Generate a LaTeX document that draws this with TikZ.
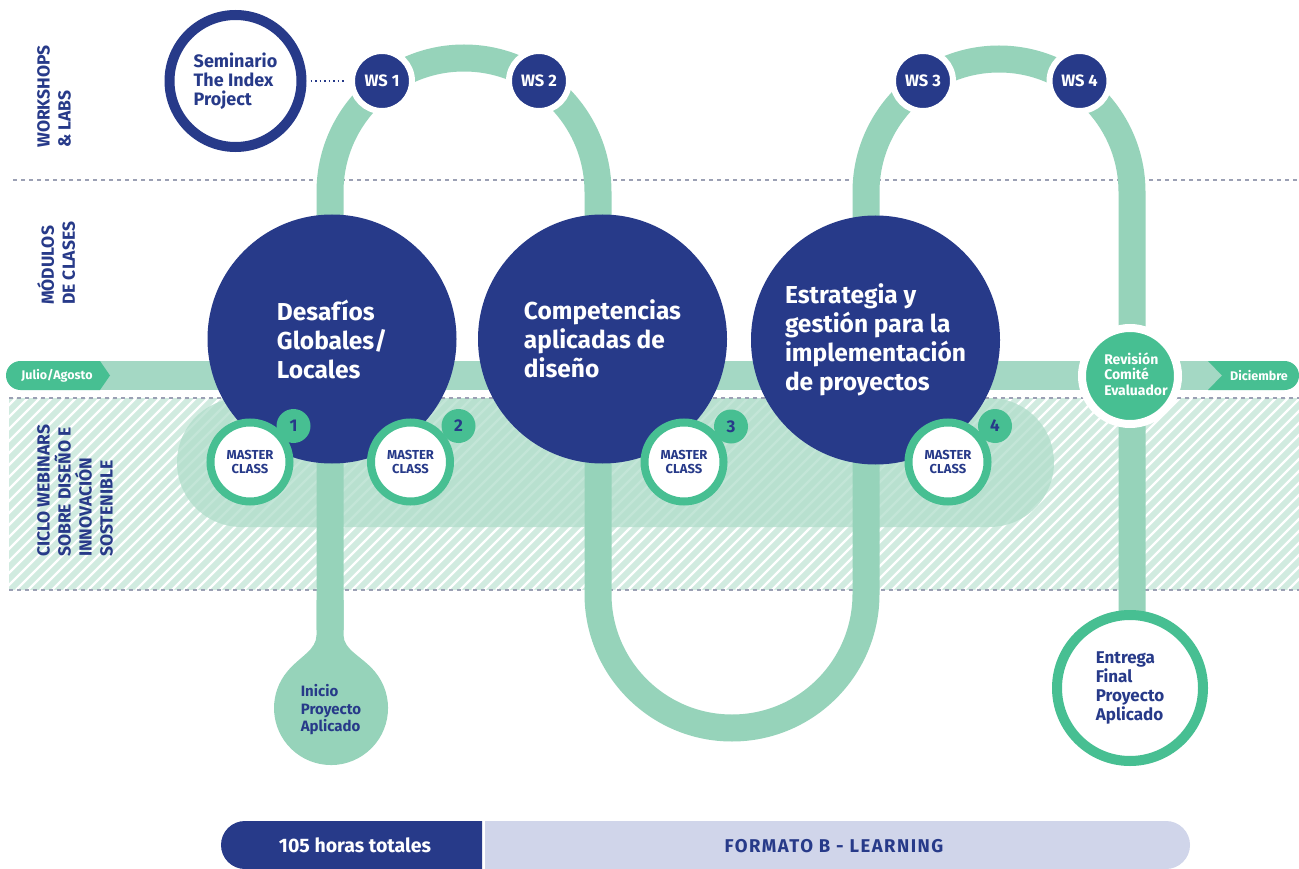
\documentclass[tikz,border=0pt]{standalone}
\usepackage{fontspec}
\setmainfont{Fira Sans}
\definecolor{navy}{RGB}{39,58,137}
\definecolor{dgreen}{RGB}{71,191,146}
\definecolor{trackc}{RGB}{150,211,186}
\definecolor{barc}{RGB}{164,216,196}
\definecolor{hatchbg}{RGB}{209,235,224}
\definecolor{pillc}{RGB}{176,221,202}
\definecolor{lav}{RGB}{208,213,234}
\definecolor{dashc}{RGB}{155,160,180}
\begin{document}
\begin{tikzpicture}[x=1pt,y=1pt,
  bigc/.style={circle, fill=navy, minimum size=249, inner sep=0, text=white, align=left, font={\bfseries\fontsize{24.5}{29}\selectfont}},
  mc/.style={circle, fill=white, draw=dgreen, line width=8, minimum size=79, inner sep=0, text=navy, align=center, font={\bfseries\fontsize{13}{14}\selectfont}},
  badge/.style={circle, fill=dgreen, minimum size=34, inner sep=0, text=navy, font={\bfseries\fontsize{17}{17}\selectfont}},
  ws/.style={circle, fill=navy, draw=white, line width=6, minimum size=60, inner sep=0, text=white, font={\bfseries\fontsize{16.5}{16}\selectfont}},
  ring/.style={circle, fill=white, line width=10, inner sep=0, text=navy, align=left},
  sidelabel/.style={rotate=90, anchor=north west, align=left, inner sep=0, text=navy, font={\bfseries\fontsize{17.5}{21}\selectfont}},
  dashline/.style={draw=dashc, line width=1.2, dash pattern=on 4pt off 4pt},
  track/.style={draw=trackc, line width=27},
  bartext/.style={text=white, font={\bfseries\fontsize{12.5}{12}\selectfont}}
]
\useasboundingbox (0,0) rectangle (1299,-869);
\clip (0,0) rectangle (1299,-869);
\fill[white] (0,0) rectangle (1299,-869);

% hatched band
\fill[hatchbg] (9,-398) rectangle (1299,-590);
\begin{scope}
  \clip (9,-398) rectangle (1299,-590);
  \foreach \i in {-200,-188,...,1300} \draw[white, line width=2.2] (\i,-590) -- ++(192,192);
\end{scope}
\fill[pillc, opacity=0.75] (241.5,-398) -- (989.5,-398) arc[start angle=90,end angle=-90,radius=64.5] -- (241.5,-527) arc[start angle=270,end angle=90,radius=64.5] -- cycle;

% dashed separators
\draw[dashline] (13,-180) -- (1299,-180);
\draw[dashline] (9,-398) -- (1299,-398);
\draw[dashline] (9,-590) -- (1299,-590);

% timeline bar
\fill[barc] (100,-361) rectangle (1222,-390);

% track
\draw[track] (330,-630) -- (330,-192) arc[start angle=180,end angle=0,radius=134]
  -- (598,-594) arc[start angle=180,end angle=360,radius=134]
  -- (866,-192) arc[start angle=180,end angle=0,radius=133] -- (1132,-650);

% drop
\fill[trackc] (343.5,-600) -- (343.5,-635) .. controls (343.5,-650) and (361.8,-656.1) .. (374.7,-671.4)
  arc[start angle=40,end angle=-220,radius=57]
  .. controls (300.2,-656.1) and (316.5,-650) .. (316.5,-635) -- (316.5,-600) -- cycle;
\node[inner sep=0, text=navy, align=left, font={\bfseries\fontsize{15}{17.5}\selectfont}] (inicio) at (331,-710) {Inicio\\Proyecto\\Aplicado};

% chevrons
\fill[dgreen] (100,-361) -- (20.5,-361) arc[start angle=90,end angle=270,radius=14.5] -- (100,-390) -- (110,-375.5) -- cycle;
\node[bartext] (julio) at (57,-375.5) {Julio/Agosto};
\fill[dgreen] (1208,-361) -- (1284.5,-361) arc[start angle=90,end angle=-90,radius=14.5] -- (1208,-390) -- (1222,-375.5) -- cycle;
\node[bartext] (dic) at (1259,-375.5) {Diciembre};

% side labels
\node[sidelabel] (lab1) at (37,-148) {WORKSHOPS\\\& LABS};
\node[sidelabel] (lab2) at (37,-305) {MÓDULOS\\DE CLASES};
\node[sidelabel] (lab3) at (37,-557) {CICLO WEBINARS\\SOBRE DISEÑO E\\INNOVACIÓN\\SOSTENIBLE};

% big modules
\node[bigc] (des) at (332,-339) {Desafíos\\Globales/\\Locales};
\node[bigc] (comp) at (602.5,-339) {Competencias\\aplicadas de\\diseño};
\node[bigc, xshift=5] (est) at (870.5,-340) {Estrategia y\\gestión para la\\implementación\\de proyectos};

% master classes
\node[mc] (mc1) at (250,-462) {MASTER\\CLASS};
\node[mc] (mc2) at (410.5,-462) {MASTER\\CLASS};
\node[mc] (mc3) at (684,-462) {MASTER\\CLASS};
\node[mc] (mc4) at (948,-462) {MASTER\\CLASS};
\node[badge] (b1) at (293.5,-426) {1};
\node[badge] (b2) at (458.5,-426) {2};
\node[badge] (b3) at (731,-426.5) {3};
\node[badge] (b4) at (995,-426) {4};

% workshops
\node[ring, draw=navy, minimum size=132, font={\bfseries\fontsize{18}{19}\selectfont}] (sem) at (235.5,-81) {Seminario\\The Index\\Project};
\node[ws] (ws1) at (382,-81) {WS 1};
\node[ws] (ws2) at (539,-81) {WS 2};
\node[ws] (ws3) at (923,-81) {WS 3};
\node[ws] (ws4) at (1079.5,-81) {WS 4};
\draw[navy, line width=1.5, dash pattern=on 1.5pt off 3pt, shorten <=4, shorten >=5] (sem.east) -- (ws1.west);

% review and final delivery
\node[circle, fill=dgreen, draw=white, line width=8, minimum size=96, inner sep=0] (rev) at (1130,-376) {};
\node[inner sep=0, text=white, align=left, font={\bfseries\fontsize{14}{15.5}\selectfont}] (revt) at (1136,-374) {Revisión\\Comité\\Evaluador};
\node[ring, draw=dgreen, minimum size=146, font={\bfseries\fontsize{17}{19}\selectfont}] (ent) at (1130,-688) {Entrega\\Final\\Proyecto\\Aplicado};

% bottom bar
\fill[navy] (482,-821) -- (245,-821) arc[start angle=90,end angle=270,radius=24] -- (482,-869) -- cycle;
\fill[lav] (485,-821) -- (1166,-821) arc[start angle=90,end angle=-90,radius=24] -- (485,-869) -- cycle;
\node[text=white, font={\bfseries\fontsize{19.5}{19}\selectfont}] (hrs) at (355,-845) {105 horas totales};
\node[text=navy, font={\bfseries\fontsize{18.5}{18}\selectfont\addfontfeatures{LetterSpace=8}}] (fmt) at (834,-846) {FORMATO B - LEARNING};
\end{tikzpicture}
\end{document}
